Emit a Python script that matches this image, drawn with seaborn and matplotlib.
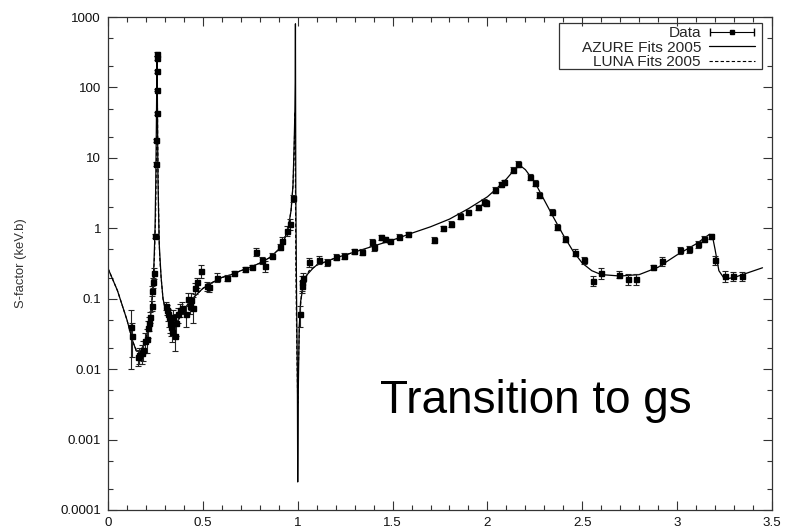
import numpy as np
import pandas as pd
import matplotlib
matplotlib.use("Agg")
import matplotlib.pyplot as plt
import seaborn as sns
from matplotlib.container import ErrorbarContainer
from matplotlib.lines import Line2D
from matplotlib.collections import LineCollection
from matplotlib.patches import Rectangle
from matplotlib.legend_handler import HandlerErrorbar
from matplotlib.ticker import LogLocator, FixedLocator, NullFormatter

# ---------------- data ----------------
data_x = [0.120, 0.127, 0.157, 0.165, 0.178, 0.185, 0.195, 0.205, 0.212, 0.218,
          0.224, 0.230, 0.232, 0.237, 0.240, 0.246, 0.254, 0.255, 0.256, 0.256,
          0.256, 0.257, 0.257,
          0.305, 0.310, 0.315, 0.320, 0.325, 0.330, 0.335, 0.345, 0.355, 0.360,
          0.370, 0.380, 0.390, 0.410, 0.420, 0.430, 0.440, 0.450, 0.460, 0.470,
          0.490, 0.520, 0.535, 0.575, 0.625, 0.665, 0.720, 0.757, 0.780, 0.810,
          0.826, 0.865, 0.905, 0.915, 0.943, 0.957, 0.973,
          1.012, 1.020, 1.025, 1.030, 1.060, 1.110, 1.155, 1.200, 1.245, 1.295,
          1.340, 1.390, 1.400, 1.440, 1.460, 1.485, 1.535, 1.580, 1.720, 1.765,
          1.810, 1.855, 1.900, 1.950, 1.980, 1.990, 2.040, 2.070, 2.085, 2.135,
          2.160, 2.225, 2.250, 2.270, 2.340, 2.365, 2.410, 2.460, 2.510, 2.555,
          2.600, 2.695, 2.740, 2.785, 2.875, 2.920, 3.015, 3.060, 3.110, 3.140,
          3.180, 3.200, 3.250, 3.295, 3.340]
data_y = [0.040, 0.030, 0.015, 0.016, 0.017, 0.019, 0.025, 0.027, 0.038, 0.045,
          0.055, 0.080, 0.130, 0.170, 0.230, 0.78, 8.1, 17.8, 43.0, 92.0,
          170.0, 262.0, 300.0,
          0.080, 0.070, 0.060, 0.055, 0.045, 0.040, 0.034, 0.055, 0.030, 0.045,
          0.060, 0.070, 0.075, 0.060, 0.100, 0.080, 0.095, 0.075, 0.140, 0.170,
          0.250, 0.150, 0.145, 0.200, 0.200, 0.230, 0.260, 0.280, 0.460, 0.350,
          0.290, 0.410, 0.540, 0.670, 0.930, 1.15, 2.7,
          0.060, 0.170, 0.150, 0.200, 0.330, 0.360, 0.330, 0.390, 0.410, 0.470,
          0.460, 0.630, 0.540, 0.740, 0.700, 0.660, 0.760, 0.820, 0.680, 1.00,
          1.16, 1.50, 1.70, 2.00, 2.40, 2.30, 3.50, 4.20, 4.50, 6.80,
          8.30, 5.40, 4.40, 3.00, 1.70, 1.05, 0.700, 0.450, 0.350, 0.180,
          0.230, 0.220, 0.190, 0.190, 0.280, 0.340, 0.490, 0.500, 0.600, 0.700,
          0.770, 0.350, 0.210, 0.210, 0.210]
data_err = [0.030, 0.015, 0.004, 0.004, 0.005, 0.006, 0.008, 0.010, 0.010, 0.010,
            0.010, 0.012, 0.020, 0.030, 0.040, 0.05, 0.5, 1.0, 2.0, 4.0,
            8.0, 15.0, 20.0,
            0.010, 0.012, 0.012, 0.015, 0.012, 0.010, 0.010, 0.015, 0.012, 0.015,
            0.015, 0.015, 0.015, 0.020, 0.020, 0.020, 0.025, 0.030, 0.025, 0.030,
            0.050, 0.020, 0.020, 0.030, 0.020, 0.020, 0.020, 0.020, 0.060, 0.040,
            0.050, 0.030, 0.050, 0.080, 0.150, 0.20, 0.3,
            0.020, 0.040, 0.030, 0.030, 0.050, 0.050, 0.040, 0.040, 0.040, 0.040,
            0.040, 0.070, 0.060, 0.060, 0.060, 0.050, 0.060, 0.070, 0.070, 0.09,
            0.10, 0.13, 0.14, 0.17, 0.20, 0.20, 0.30, 0.35, 0.40, 0.60,
            0.80, 0.50, 0.40, 0.30, 0.15, 0.10, 0.070, 0.050, 0.040, 0.030,
            0.040, 0.025, 0.035, 0.035, 0.025, 0.050, 0.060, 0.060, 0.070, 0.070,
            0.070, 0.050, 0.040, 0.030, 0.030]

azure_x = [0.00, 0.05, 0.10, 0.13, 0.15, 0.17, 0.19, 0.21, 0.225, 0.235,
           0.242, 0.248, 0.252, 0.255, 0.257, 0.259, 0.261, 0.263, 0.266, 0.270,
           0.280, 0.290, 0.300, 0.320, 0.340, 0.360, 0.380, 0.400, 0.430, 0.460,
           0.500, 0.550, 0.600, 0.650, 0.700, 0.750, 0.800, 0.850, 0.900, 0.930,
           0.950, 0.965, 0.975, 0.981, 0.985, 0.987, 0.988, 0.990, 0.994, 0.998,
           1.000, 1.003, 1.008, 1.015, 1.030, 1.050, 1.080, 1.100, 1.200, 1.300,
           1.400, 1.500, 1.600, 1.700, 1.800, 1.900, 2.000, 2.050, 2.100, 2.150,
           2.180, 2.200, 2.250, 2.300, 2.350, 2.400, 2.450, 2.500, 2.550, 2.600,
           2.700, 2.800, 2.900, 3.000, 3.100, 3.150, 3.170, 3.185, 3.200, 3.220,
           3.250, 3.300, 3.450]
azure_y = [0.27, 0.13, 0.05, 0.025, 0.018, 0.018, 0.022, 0.035, 0.060, 0.12,
           0.30, 1.0, 5.0, 30.0, 120.0, 300.0, 40.0, 6.0, 2.0, 0.6,
           0.20, 0.10, 0.075, 0.050, 0.042, 0.045, 0.055, 0.070, 0.090, 0.110,
           0.140, 0.170, 0.200, 0.220, 0.250, 0.280, 0.320, 0.380, 0.500, 0.700,
           1.00, 1.80, 4.0, 15.0, 45.0, 120.0, 800.0, 3.0, 0.10, 0.01,
           0.00025, 0.005, 0.040, 0.090, 0.160, 0.220, 0.270, 0.300, 0.380, 0.460,
           0.560, 0.680, 0.850, 1.05, 1.35, 1.90, 2.80, 3.70, 5.00, 7.20,
           7.50, 6.80, 4.50, 2.50, 1.40, 0.80, 0.48, 0.32, 0.25, 0.22,
           0.21, 0.22, 0.28, 0.42, 0.60, 0.75, 0.82, 0.80, 0.50, 0.25,
           0.19, 0.20, 0.275]

luna_x = [0.00, 0.05, 0.10, 0.13, 0.15, 0.17, 0.19, 0.21, 0.225, 0.235,
          0.245, 0.251, 0.255, 0.258, 0.260, 0.262, 0.265, 0.268, 0.272, 0.280,
          0.290, 0.300, 0.320, 0.340, 0.360, 0.380, 0.400, 0.430, 0.460, 0.500,
          0.550, 0.600, 0.650, 0.700, 0.750, 0.800, 0.850, 0.900, 0.930, 0.950,
          0.965, 0.975, 0.981, 0.986, 0.990, 0.995, 1.000, 1.004, 1.010, 1.020,
          1.040, 1.060, 1.100, 1.200, 1.300]
luna_y = [0.27, 0.13, 0.05, 0.025, 0.018, 0.018, 0.022, 0.035, 0.060, 0.12,
          0.40, 1.50, 8.0, 40.0, 100.0, 20.0, 4.0, 1.2, 0.40, 0.20,
          0.10, 0.075, 0.050, 0.042, 0.045, 0.055, 0.070, 0.090, 0.110, 0.140,
          0.170, 0.200, 0.220, 0.250, 0.280, 0.320, 0.380, 0.500, 0.700, 1.00,
          1.80, 4.0, 12.0, 45.0, 0.30, 0.02, 0.0033, 0.012, 0.050, 0.120,
          0.200, 0.250, 0.300, 0.380, 0.460]

x_ticks = [0, 0.5, 1, 1.5, 2, 2.5, 3, 3.5]
x_tick_labels = ["0", "0.5", "1", "1.5", "2", "2.5", "3", "3.5"]
y_ticks = [0.0001, 0.001, 0.01, 0.1, 1, 10, 100, 1000]
y_tick_labels = ["0.0001", "0.001", "0.01", "0.1", "1", "10", "100", "1000"]

# ---------------- style ----------------
sns.set_theme(style="ticks")
plt.rcParams["font.family"] = ["Liberation Sans", "DejaVu Sans"]

fig = plt.figure(figsize=(7.86, 5.32), dpi=100)
ax = fig.add_axes([108 / 786, 1 - 510 / 532, (772 - 108) / 786, (510 - 17) / 532])

df_az = pd.DataFrame({"E": azure_x, "S": azure_y})
df_lu = pd.DataFrame({"E": luna_x, "S": luna_y})

sns.lineplot(data=df_az, x="E", y="S", ax=ax, color="black", lw=0.9,
             estimator=None, sort=False, legend=False)
sns.lineplot(data=df_lu, x="E", y="S", ax=ax, color="black", lw=0.8,
             estimator=None, sort=False, legend=False, dashes=False,
             linestyle=(0, (3, 2)))

ax.errorbar(data_x, data_y, yerr=data_err, fmt="s", color="black",
            markersize=3.6, elinewidth=0.8, ecolor="#222222",
            capsize=2.5, capthick=0.8, zorder=5)

ax.set_yscale("log")
ax.set_xlim(0, 3.5)
ax.set_ylim(0.0001, 1000)

ax.xaxis.set_major_locator(FixedLocator(x_ticks))
ax.set_xticklabels(x_tick_labels)
ax.xaxis.set_minor_locator(FixedLocator(np.arange(0, 3.51, 0.1)))
ax.yaxis.set_major_locator(FixedLocator(y_ticks))
ax.set_yticklabels(y_tick_labels)
ax.yaxis.set_minor_locator(LogLocator(base=10, subs=(2.0, 5.0), numticks=20))
ax.yaxis.set_minor_formatter(NullFormatter())

ax.tick_params(axis="both", which="both", direction="in",
               top=True, right=True, colors="#333333", labelcolor="#111111",
               labelsize=9.6)
ax.tick_params(axis="both", which="major", length=6.5, width=0.8, pad=5)
ax.tick_params(axis="both", which="minor", length=3.5, width=0.8)
for sp in ax.spines.values():
    sp.set_linewidth(0.9)
    sp.set_color("#333333")

ax.set_xlabel("")
ax.set_ylabel("S-factor (keV.b)", fontsize=9.4, color="#333333", labelpad=24)

ax.text(0.41, 0.197, "Transition to gs", transform=ax.transAxes,
        fontsize=33, ha="left", va="baseline", color="black")

# legend with gnuplot-like layout (text right, sample left)
pl = Line2D([], [], marker="s", color="black", markersize=3.2, linestyle="None")
cap = Line2D([], [], color="black", marker="|", markersize=6, linestyle="None")
bar = LineCollection([], colors="black", linewidths=0.8)
data_handle = ErrorbarContainer((pl, (cap,), (bar,)), has_xerr=True,
                                has_yerr=False, label="Data")
az_handle = Line2D([], [], color="black", lw=0.9)
lu_handle = Line2D([], [], color="black", lw=0.8, linestyle=(0, (3, 2)))

leg = ax.legend([data_handle, az_handle, lu_handle],
                ["Data", "AZURE Fits 2005", "LUNA Fits 2005"],
                handler_map={data_handle: HandlerErrorbar(xerr_size=1.4, numpoints=1)},
                loc="upper right", bbox_to_anchor=(0.9745, 0.981),
                borderaxespad=0, markerfirst=False, fontsize=11.1,
                handlelength=3.0, handletextpad=0.5, labelspacing=0.03,
                borderpad=0.0, frameon=False)

# legend frame (gnuplot key box)
ax.add_patch(Rectangle((0.6797, 0.8945), 0.985 - 0.6797, 0.9878 - 0.8945,
                       transform=ax.transAxes, fill=False, edgecolor="#333333",
                       linewidth=0.9, zorder=6))

fig.savefig("out.png", dpi=100)
